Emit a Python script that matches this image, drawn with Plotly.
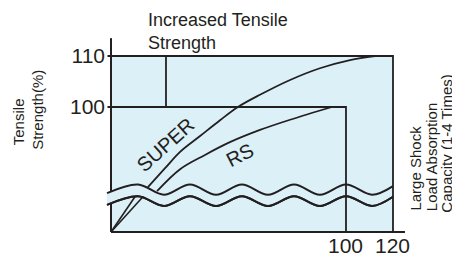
import plotly.graph_objects as go

# ---- data (schematic) ----
x_ticks = [100, 120]
y_ticks = [100, 110]

y_base = 75.5            # origin level (axis break below)
x_axis_end = 125.1
y_axis_end = 113.5
rs_shock, rs_tensile = 100, 100
super_shock, super_tensile = 120, 110
increase_mark_x = 23.4

super_low_x = [0, 10.2]
super_low_y = [75.5, 82.4]
rs_low_x = [0, 13.6]
rs_low_y = [75.5, 82.4]

super_x = [15.7, 23.0, 29.4, 37.9, 46.4, 54.0, 63.4, 76.2, 88.9, 101.7, 112.3]
super_y = [84.3, 88.0, 91.2, 94.3, 97.4, 100.0, 102.4, 105.3, 107.6, 109.2, 110.0]
rs_x = [19.6, 29.4, 40.0, 50.6, 63.4, 76.2, 94.0]
rs_y = [83.5, 87.8, 90.6, 93.1, 95.5, 97.5, 100.0]

wave_x = [-1.7, 11.5, 22.5, 33.6, 44.7, 55.7, 66.8, 77.9, 88.9, 100.0, 111.1, 120.0]
wave_upper = [83.1, 84.8, 82.8, 84.8, 82.8, 84.8, 82.8, 84.8, 82.8, 84.8, 82.8, 84.5]
wave_lower = [80.8, 82.5, 80.6, 82.5, 80.6, 82.5, 80.6, 82.5, 80.6, 82.5, 80.6, 82.4]

BLUE = "#dcf0f8"
INK = "#231f20"
FONT = "Liberation Sans, Arial, sans-serif"

X_RANGE = [-2.13, 125.11]
Y_RANGE = [74.90, 114.51]

fig = go.Figure()

def line(xs, ys, w=1.8, shape="linear"):
    fig.add_trace(go.Scatter(x=xs, y=ys, mode="lines",
                             line=dict(color=INK, width=w, shape=shape),
                             hoverinfo="skip", showlegend=False))

# background
fig.add_trace(go.Scatter(x=[0, super_shock, super_shock, 0, 0],
                         y=[y_base, y_base, super_tensile, super_tensile, y_base],
                         mode="lines", fill="toself", fillcolor=BLUE,
                         line=dict(width=0), hoverinfo="skip", showlegend=False))
# left axis
line([0, 0], [y_base, y_axis_end], 2)

# break band
fig.add_trace(go.Scatter(x=wave_x, y=wave_lower, mode="lines",
                         line=dict(color=INK, width=2, shape="spline"),
                         hoverinfo="skip", showlegend=False))
fig.add_trace(go.Scatter(x=wave_x, y=wave_upper, mode="lines", fill="tonexty",
                         fillcolor=BLUE,
                         line=dict(color=INK, width=2, shape="spline"),
                         hoverinfo="skip", showlegend=False))
line(wave_x, wave_lower, 2, "spline")

# box lines
line([-1.5, super_shock, super_shock], [super_tensile, super_tensile, y_base], 1.8)
line([-1.5, rs_shock, rs_shock], [rs_tensile, rs_tensile, y_base], 1.8)
line([increase_mark_x, increase_mark_x], [rs_tensile, super_tensile], 1.8)

# curves
line(super_low_x, super_low_y, 1.6)
line(rs_low_x, rs_low_y, 1.6)
line(super_x, super_y, 1.8, "spline")
line(rs_x, rs_y, 1.8, "spline")

# bottom axis
line([0, x_axis_end], [y_base, y_base], 2)

def px(v):
    return (v - X_RANGE[0]) / (X_RANGE[1] - X_RANGE[0])

def py(v):
    return (v - Y_RANGE[0]) / (Y_RANGE[1] - Y_RANGE[0])

ann = []
def text(t, x, y, size, angle=0, xa="center", ya="middle", align="center"):
    ann.append(dict(text=t, x=px(x), y=py(y), xref="paper", yref="paper", showarrow=False,
                    textangle=angle, xanchor=xa, yanchor=ya, align=align,
                    font=dict(family=FONT, size=size, color=INK)))

text("Increased Tensile<br>Strength", 14.9, 114.9, 18, xa="left", align="left")
text("Tensile", -39.6, 92.2, 15, angle=-90, ya="bottom")
text("Strength(%)", -31.1, 91.2, 15, angle=-90, ya="bottom")
text("Large Shock", 129.8, 79.2, 15, angle=-90, ya="bottom")
text("Load Absorption", 136.2, 79.2, 15, angle=-90, ya="bottom")
text("Capacity (1-4 Times)", 143.0, 78.9, 15, angle=-90, ya="bottom")
text("SUPER", 23.0, 92.6, 20, angle=-42)
text("RS", 54.9, 90.6, 20, angle=-27)
# x tick labels (placed at the tick values, just below the axis)
for v in x_ticks:
    text(str(v), v, 72.75, 21)

# page body has an 8px margin, so the figure is 8px smaller and offsets shifted
fig.update_layout(
    template="none",
    width=452, height=247,
    margin=dict(l=98, r=55, t=25, b=20, autoexpand=False),
    paper_bgcolor="white", plot_bgcolor="white",
    annotations=ann,
    xaxis=dict(range=X_RANGE, showgrid=False, zeroline=False, showline=False,
               automargin=False, showticklabels=False,
               tickvals=x_ticks, ticks="", fixedrange=True),
    yaxis=dict(range=Y_RANGE, showgrid=False, zeroline=False, showline=False,
               automargin=False,
               tickvals=y_ticks, ticktext=[str(v) for v in y_ticks], ticks="",
               tickfont=dict(family=FONT, size=21, color=INK), fixedrange=True),
)

fig.write_html("out.html")
